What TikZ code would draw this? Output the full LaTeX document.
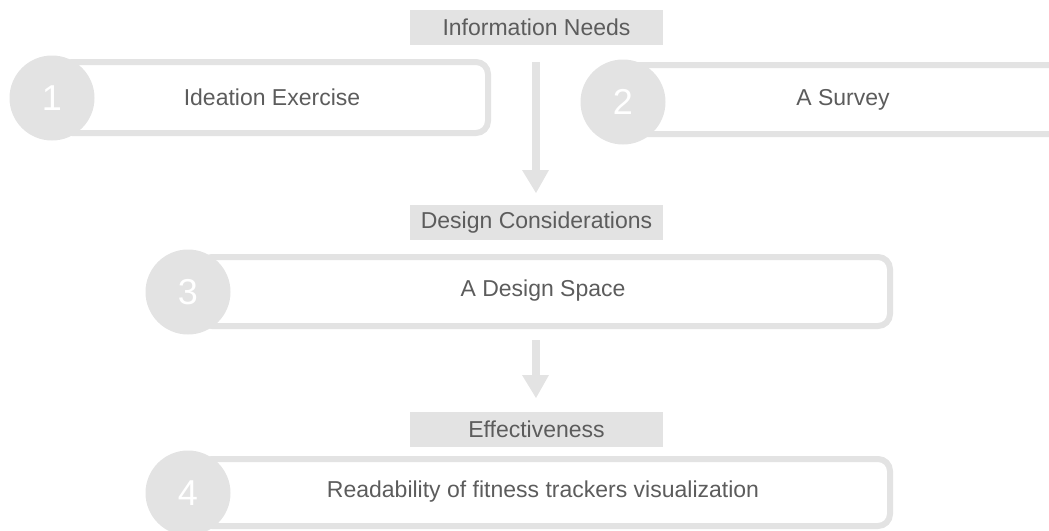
\documentclass[tikz,border=0pt]{standalone}
\usepackage{fontspec}
\setmainfont{Liberation Sans}
\definecolor{lg}{HTML}{E3E3E3}
\definecolor{tx}{HTML}{5C5C5C}
\tikzset{
  lab/.style={fill=lg, text=tx, font=\fontsize{23}{26}\selectfont, minimum width=253pt, minimum height=35pt, inner sep=0pt},
  frame/.style={draw=lg, line width=6pt, rounded corners=12pt},
  num/.style={circle, fill=lg, text=white, minimum size=85pt, inner sep=0pt, font=\fontsize{36}{38}\selectfont},
  txt/.style={text=tx, font=\fontsize{23}{26}\selectfont},
  flow/.style={draw=lg, line width=8pt},
  tip/.style={fill=lg}
}
\begin{document}
\begin{tikzpicture}[x=1pt,y=-1pt]
\useasboundingbox (0,0) rectangle (1049,530);
% top label
\node[lab] (info) at (536.5,27.5) {Information Needs};
% box 1
\draw[frame] (60,62) rectangle (488,133);
\node[num] (n1) at (52,98) {1};
\node[txt] (t1) at (272,97) {Ideation Exercise};
% box 2
\draw[frame] (625,65) rectangle (1070,134);
\node[num] (n2) at (623,102) {2};
\node[txt] (t2) at (843,100) {A Survey};
% arrow 1
\coordinate (a1s) at (536,62);
\coordinate (a1e) at (536,172);
\draw[flow] (a1s) -- (a1e);
\fill[tip] (522,170) -- (549,170) -- (536,193) -- cycle;
% design considerations
\node[lab] (des) at (536.5,222.5) {Design Considerations};
% box 3
\draw[frame] (200,257) rectangle (890,326);
\node[num] (n3) at (188,292) {3};
\node[txt] (t3) at (543,291) {A Design Space};
% arrow 2
\coordinate (a2s) at (536,340);
\coordinate (a2e) at (536,377);
\draw[flow] (a2s) -- (a2e);
\fill[tip] (522,375) -- (549,375) -- (536,398) -- cycle;
% effectiveness
\node[lab] (eff) at (536.5,429.5) {Effectiveness};
% box 4
\draw[frame] (200,459) rectangle (890,526);
\node[num] (n4) at (188,493) {4};
\node[txt] (t4) at (543,492) {Readability of fitness trackers visualization};
\end{tikzpicture}
\end{document}
